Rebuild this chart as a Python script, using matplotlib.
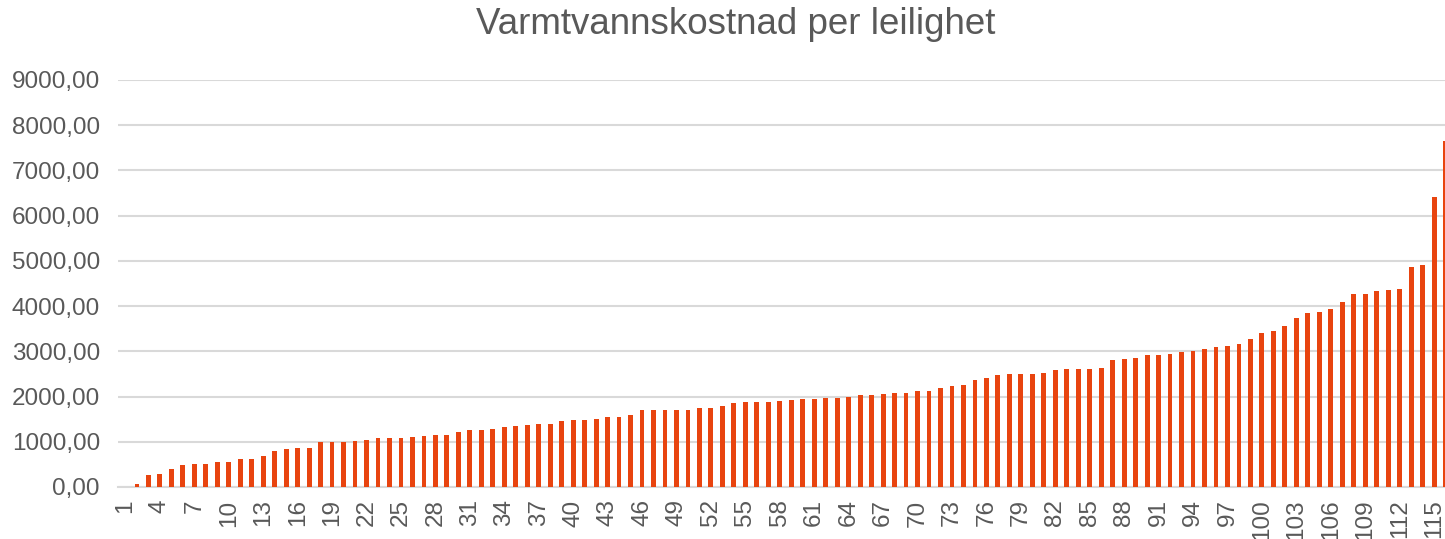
import matplotlib
matplotlib.use("Agg")
import matplotlib.pyplot as plt
from matplotlib.ticker import FuncFormatter

plt.rcParams['font.family'] = ['Liberation Sans', 'DejaVu Sans']

title = "Varmtvannskostnad per leilighet"
apartments = list(range(1, 117))
costs = [
    0, 70, 267, 281, 393, 496, 504, 511, 556, 556,
    615, 630, 696, 807, 844, 859, 867, 1000, 1000, 1000,
    1007, 1044, 1088, 1088, 1088, 1110, 1118, 1147, 1147, 1206,
    1250, 1250, 1287, 1316, 1338, 1368, 1404, 1404, 1463, 1471,
    1478, 1500, 1537, 1551, 1603, 1699, 1699, 1699, 1699, 1713,
    1750, 1750, 1801, 1853, 1875, 1890, 1890, 1904, 1926, 1945,
    1949, 1978, 1978, 1985, 2037, 2044, 2059, 2088, 2088, 2132,
    2132, 2191, 2235, 2250, 2368, 2419, 2478, 2500, 2500, 2500,
    2515, 2596, 2618, 2618, 2618, 2640, 2809, 2838, 2853, 2919,
    2919, 2949, 2993, 3015, 3051, 3096, 3125, 3162, 3272, 3412,
    3449, 3551, 3728, 3853, 3860, 3926, 4088, 4265, 4265, 4331,
    4360, 4382, 4875, 4912, 6404, 7662,
]
tick_labels = [str(i) for i in range(1, 116, 3)]
yticks = list(range(0, 9001, 1000))

W, H = 1445, 539
fig = plt.figure(figsize=(W / 100, H / 100), dpi=100)
left, right, bottom, top = 118, 1445, 487, 80
ax = fig.add_axes([left / W, 1 - bottom / H, (right - left) / W, (bottom - top) / H])

ax.bar(apartments, costs, width=0.42, color='#E8440F', zorder=3)

ax.set_xlim(0.35, 115.95)
ax.set_ylim(0, 9000)
ax.set_yticks(yticks)
ax.yaxis.set_major_formatter(FuncFormatter(lambda v, p: f"{v:.2f}".replace('.', ',')))
ax.set_xticks([int(t) for t in tick_labels])
ax.set_xticklabels(tick_labels, rotation=90)

ax.grid(axis='y', color='#D9D9D9', linewidth=1.5, zorder=0)
ax.set_axisbelow(True)
for s in ['top', 'right', 'left']:
    ax.spines[s].set_visible(False)
ax.spines['bottom'].set_color('#D9D9D9')
ax.spines['bottom'].set_linewidth(1.5)
ax.tick_params(axis='both', length=0, labelsize=17.5, colors='#595959')
ax.tick_params(axis='y', pad=13)
ax.tick_params(axis='x', pad=9)

fig.text(736 / W, 1 - 24 / H, title, ha='center', va='center', fontsize=26.5, color='#595959')

fig.savefig("out.png", dpi=100)
